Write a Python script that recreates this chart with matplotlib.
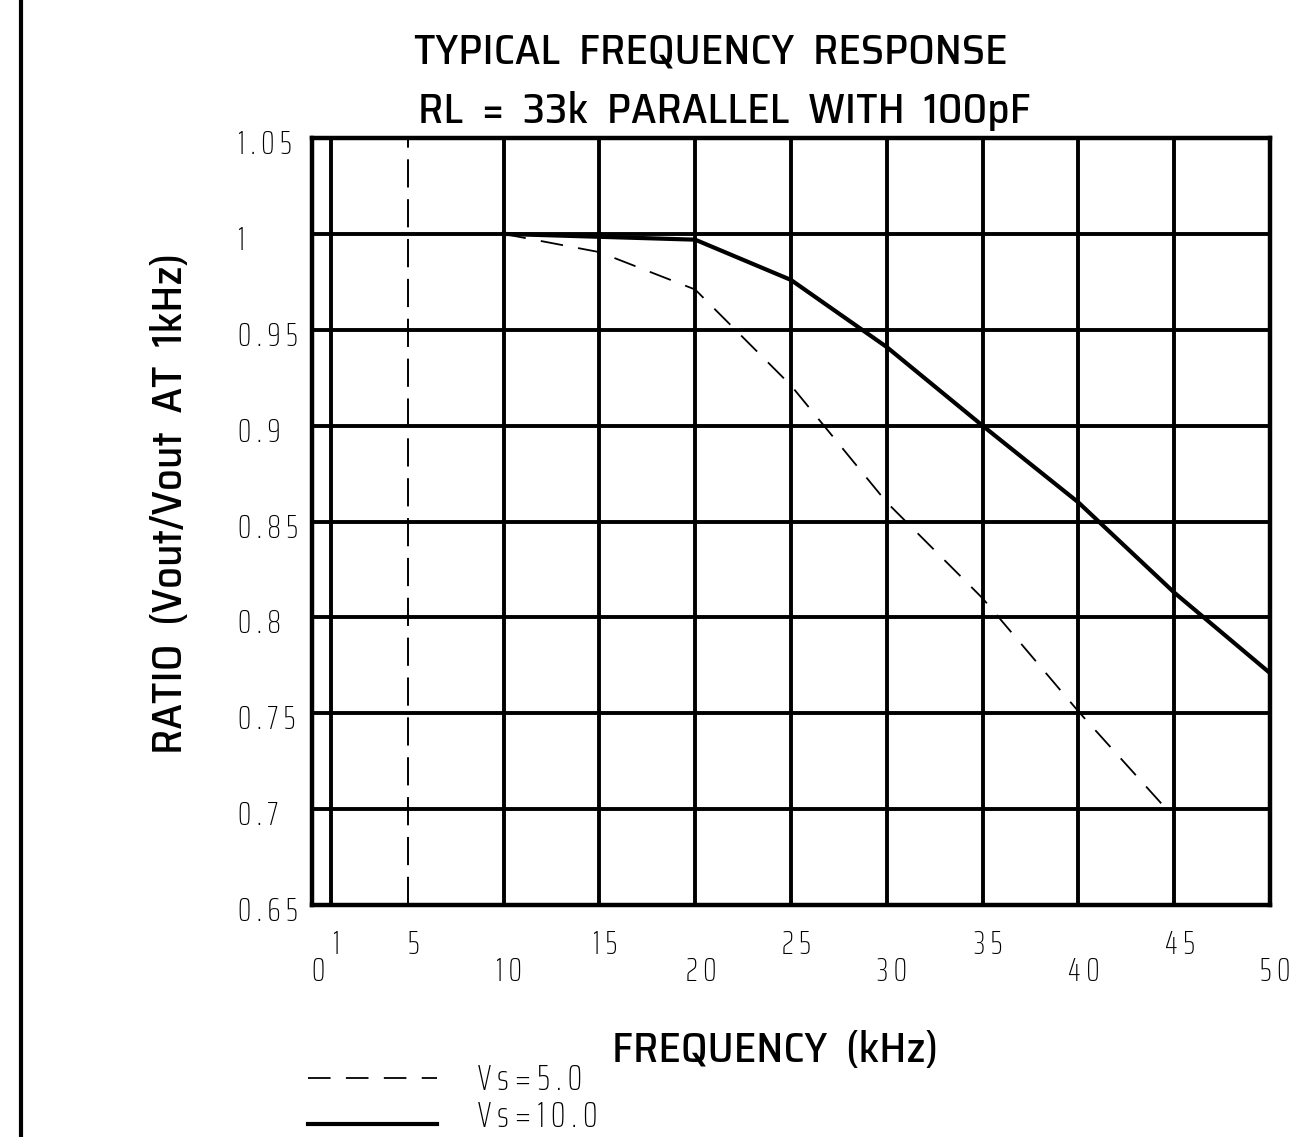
import matplotlib
matplotlib.use("Agg")
import matplotlib.pyplot as plt
from matplotlib.transforms import ScaledTranslation, blended_transform_factory
from matplotlib.lines import Line2D

# Frequency response data (kHz vs output ratio)
freq_5v = [10, 15, 20, 25, 30, 35, 40, 44.6]
ratio_5v = [1.0, 0.9905, 0.971, 0.921, 0.86, 0.81, 0.751, 0.70]
freq_10v = [10, 20, 25, 30, 35, 40, 45, 50]
ratio_10v = [1.0, 0.997, 0.976, 0.941, 0.90, 0.860, 0.813, 0.771]

x_upper_ticks = [1, 5, 15, 25, 35, 45]
x_lower_ticks = [0, 10, 20, 30, 40, 50]
x_grid = [1, 10, 15, 20, 25, 30, 35, 40, 45]
y_ticks = [0.65, 0.7, 0.75, 0.8, 0.85, 0.9, 0.95, 1.0, 1.05]
y_tick_labels = ["0.65", "0.7", "0.75", "0.8", "0.85", "0.9", "0.95", "1", "1.05"]

THIN = ["Saira ExtraCondensed", "DejaVu Sans"]
BOLD = ["Saira SemiCondensed", "DejaVu Sans"]
DASH = (12.5, 8.5)


def spaced(s):
    return " ".join(s)


fig = plt.figure(figsize=(13.08, 11.37), dpi=100)
ax = fig.add_axes([0.2385, 0.2040, 0.7324, 0.6746])
ax.set_xlim(0, 50)
ax.set_ylim(0.65, 1.05)

# grid
for x in x_grid:
    ax.axvline(x, color="black", lw=2.8, zorder=1)
for y in y_ticks[1:-1]:
    ax.axhline(y, color="black", lw=2.8, zorder=1)
ax.axvline(5, color="black", lw=1.4, dashes=(14.5, 6), zorder=1)

for side in ["left", "right", "top", "bottom"]:
    ax.spines[side].set_linewidth(3.2)
ax.set_xticks([])
ax.set_yticks([])

# curves
ax.plot(freq_5v, ratio_5v, color="black", lw=1.3, dashes=DASH, zorder=3)
ax.plot(freq_10v, ratio_10v, color="black", lw=3.0, zorder=3)

# staggered x labels
xt = blended_transform_factory(ax.transData, ax.transAxes)
for v in x_upper_ticks:
    ax.text(v + 0.3, -0.052, spaced(str(v)), transform=xt, ha="center", va="center",
            fontsize=24, family=THIN, fontweight=250)
for v in x_lower_ticks:
    ax.text(v + 0.3, -0.087, spaced(str(v)), transform=xt, ha="center", va="center",
            fontsize=24, family=THIN, fontweight=250)

# y labels, left aligned
yt = ax.get_yaxis_transform() + ScaledTranslation(0, -7 / 100, fig.dpi_scale_trans)
for v, lab in zip(y_ticks, y_tick_labels):
    ax.text(-0.077, v, spaced(lab), transform=yt, ha="left", va="center",
            fontsize=24, family=THIN, fontweight=250)

fig.text(0.5436, 0.955, "TYPICAL  FREQUENCY  RESPONSE", ha="center", va="center",
         fontsize=31, family=BOLD, fontweight=500)
fig.text(0.5535, 0.902, "RL  =  33k  PARALLEL  WITH  100pF", ha="center", va="center",
         fontsize=31, family=BOLD, fontweight=500)
fig.text(0.5925, 0.0765, "FREQUENCY  (kHz)", ha="center", va="center",
         fontsize=31, family=BOLD, fontweight=500)
fig.text(0.130, 0.557, "RATIO  (Vout/Vout  AT  1kHz)", ha="center", va="center",
         rotation=90, fontsize=31, family=BOLD, fontweight=500)

# legend
fig.add_artist(Line2D([308 / 1308, 437 / 1308], [1 - 1078 / 1137] * 2, color="black",
                      lw=1.3, dashes=DASH))
fig.add_artist(Line2D([308 / 1308, 437 / 1308], [1 - 1124 / 1137] * 2, color="black", lw=3.0))
fig.text(478 / 1308, 1 - 1080 / 1137, spaced("Vs=5.0"), ha="left", va="center",
         fontsize=26, family=THIN, fontweight=250)
fig.text(478 / 1308, 1 - 1117 / 1137, spaced("Vs=10.0"), ha="left", va="center",
         fontsize=26, family=THIN, fontweight=250)

# page border on the left
fig.add_artist(Line2D([21 / 1308] * 2, [0, 1], color="black", lw=3.0))

fig.savefig("out.png", dpi=100)
